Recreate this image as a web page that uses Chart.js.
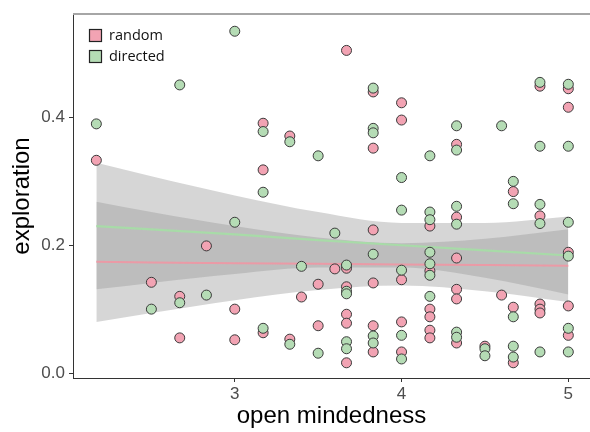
<!DOCTYPE html>
<html><head><meta charset="utf-8">
<script src="https://cdn.jsdelivr.net/npm/chart.js@4.4.0/dist/chart.umd.min.js"></script>
<style>html,body{margin:0;padding:0;background:#fff;}</style>
</head><body>
<canvas id="c" width="590" height="432"></canvas>
<script>
// ---- data ----
const randomX = [2.17,3.67,3.83,4.0,4.0,3.17,3.33,3.83,3.17,4.83,5.0,5.0,4.33,4.67,2.83,2.5,2.67,3.0,2.67,3.0,
  3.83,3.6,3.67,4.0,3.5,3.83,3.67,3.4,3.67,3.67,3.5,3.83,3.17,3.33,3.83,4.0,4.0,3.67,4.83,4.17,
  4.33,5.0,4.33,4.17,4.33,4.33,4.6,4.17,4.17,4.17,4.17,5.0,4.67,4.83,4.83,4.83,5.0,4.33,4.5,4.67];
const randomY = [0.333,0.505,0.440,0.423,0.396,0.391,0.371,0.352,0.318,0.449,0.445,0.416,0.358,0.284,0.199,0.142,0.120,0.100,0.055,0.052,
  0.224,0.163,0.164,0.146,0.139,0.141,0.135,0.119,0.092,0.078,0.074,0.074,0.063,0.053,0.033,0.080,0.033,0.016,0.246,0.230,
  0.244,0.189,0.180,0.160,0.131,0.116,0.122,0.100,0.088,0.067,0.055,0.105,0.103,0.108,0.100,0.094,0.059,0.047,0.042,0.016];
const directedX = [3.0,2.67,2.17,3.83,3.17,3.33,3.5,3.83,3.83,4.0,3.17,4.83,5.0,4.33,4.6,4.83,5.0,4.33,4.17,4.67,
  3.0,2.67,2.83,2.5,4.0,3.6,3.83,3.4,3.67,4.0,3.67,3.67,3.17,3.33,3.83,3.83,4.0,4.0,3.5,3.67,
  3.67,4.67,4.83,4.83,4.17,4.17,4.33,4.33,5.0,5.0,4.17,4.17,4.17,4.17,4.67,5.0,4.33,4.33,4.5,4.5,
  4.67,4.67,4.83,5.0];
const directedY = [0.535,0.451,0.390,0.446,0.378,0.362,0.340,0.383,0.376,0.306,0.283,0.455,0.452,0.387,0.387,0.355,0.355,0.349,0.340,0.300,
  0.236,0.110,0.122,0.100,0.255,0.219,0.186,0.167,0.169,0.161,0.128,0.124,0.070,0.045,0.058,0.047,0.059,0.022,0.031,0.049,
  0.038,0.265,0.264,0.234,0.252,0.240,0.261,0.233,0.236,0.183,0.189,0.171,0.153,0.120,0.088,0.070,0.064,0.056,0.038,0.027,
  0.042,0.025,0.033,0.033];
const fitX = [2.17,2.5,3.0,3.5,4.0,4.5,5.0];
const randomFit   = [0.174,0.173,0.172,0.171,0.170,0.169,0.168];
const randomUpper = [0.268,0.252,0.230,0.212,0.203,0.210,0.225];
const randomLower = [0.080,0.094,0.114,0.130,0.137,0.128,0.111];
const directedFit   = [0.230,0.225,0.217,0.208,0.200,0.192,0.184];
const directedUpper = [0.329,0.308,0.278,0.252,0.235,0.235,0.245];
const directedLower = [0.131,0.141,0.155,0.165,0.165,0.149,0.123];
const xTicks = [3,4,5];
const yTicks = [0.0,0.2,0.4];
const seriesNames = ['random','directed'];
const xTitle = 'open mindedness';
const yTitle = 'exploration';

const pinkFill = '#f2a3b3', greenFill = '#b5dcb5';
const pts = (xs, ys) => xs.map((x,i)=>({x:x,y:ys[i]}));
const bandFill = 'rgba(153,153,153,0.4)';

function band(xs, ys, fill){
  return {data: pts(xs, ys), showLine:true, pointRadius:0, borderWidth:0, borderColor:'rgba(0,0,0,0)',
    backgroundColor: bandFill, fill: fill, cubicInterpolationMode:'monotone', order:3};
}

const legendPlugin = {
  id:'legendBox',
  afterDraw(chart){
    const ctx = chart.ctx, a = chart.chartArea;
    ctx.save();
    ctx.strokeStyle = '#a6a6a6'; ctx.lineWidth = 2;
    ctx.beginPath(); ctx.moveTo(a.left, a.top); ctx.lineTo(590, a.top); ctx.stroke();
    const fills = [pinkFill, greenFill];
    ctx.font = '14.5px "Open Sans"';
    ctx.textBaseline = 'middle';
    seriesNames.forEach((n,i)=>{
      const y = a.top + 15 + i*21;
      ctx.fillStyle = fills[i];
      ctx.fillRect(a.left+16, y, 13, 13);
      ctx.strokeStyle = '#222'; ctx.lineWidth = 1.2;
      ctx.strokeRect(a.left+16.5, y+0.5, 12, 12);
      ctx.fillStyle = '#111';
      ctx.fillText(n, a.left+36, y+6.5);
    });
    ctx.restore();
  }
};

new Chart(document.getElementById('c'), {
  type:'scatter',
  data:{datasets:[
    band(fitX, directedUpper, '+1'),
    band(fitX, directedLower, false),
    band(fitX, randomUpper, '+1'),
    band(fitX, randomLower, false),
    {data: pts(fitX, randomFit), showLine:true, pointRadius:0, borderColor:'#eb9aa6', borderWidth:2, fill:false, order:2},
    {data: pts(fitX, directedFit), showLine:true, pointRadius:0, borderColor:'#a8dba8', borderWidth:2.2, fill:false, order:2},
    {data: pts(randomX, randomY), pointRadius:5, pointBackgroundColor:pinkFill, pointBorderColor:'#3a3a3a', pointBorderWidth:1, order:1},
    {data: pts(directedX, directedY), pointRadius:5, pointBackgroundColor:greenFill, pointBorderColor:'#3a3a3a', pointBorderWidth:1, order:0}
  ]},
  options:{
    responsive:false, animation:false,
    layout:{autoPadding:false, padding:{top:14,right:0,left:0,bottom:0}},
    plugins:{legend:{display:false}, tooltip:{enabled:false}},
    scales:{
      x:{type:'linear', min:2.03, max:5.13,
        afterBuildTicks(ax){ ax.ticks = xTicks.map(v=>({value:v})); },
        afterFit(ax){ ax.height = 54; ax.paddingRight = 0; ax.paddingLeft = 0; },
        ticks:{font:{family:'"Liberation Sans", Arial', size:17}, color:'#4d4d4d', padding:2, callback:v=>String(v)},
        grid:{drawOnChartArea:false, tickLength:4, color:'#333'},
        border:{color:'#333', width:1},
        title:{display:true, text:xTitle, color:'#000', font:{family:'"Liberation Sans", Arial', size:24}, padding:{top:0,bottom:1}}
      },
      y:{type:'linear', min:-0.0078, max:0.562,
        afterBuildTicks(ax){ ax.ticks = yTicks.map(v=>({value:v})); },
        afterFit(ax){ ax.width = 73; ax.paddingTop = 0; ax.paddingBottom = 0; },
        ticks:{font:{family:'"Liberation Sans", Arial', size:17}, color:'#4d4d4d', padding:4, callback:v=>v.toFixed(1)},
        grid:{drawOnChartArea:false, tickLength:4, color:'#333'},
        border:{color:'#333', width:1},
        title:{display:true, text:yTitle, color:'#000', font:{family:'"Liberation Sans", Arial', size:24}, padding:{top:8,bottom:0}}
      }
    }
  },
  plugins:[legendPlugin]
});
</script>
</body></html>
